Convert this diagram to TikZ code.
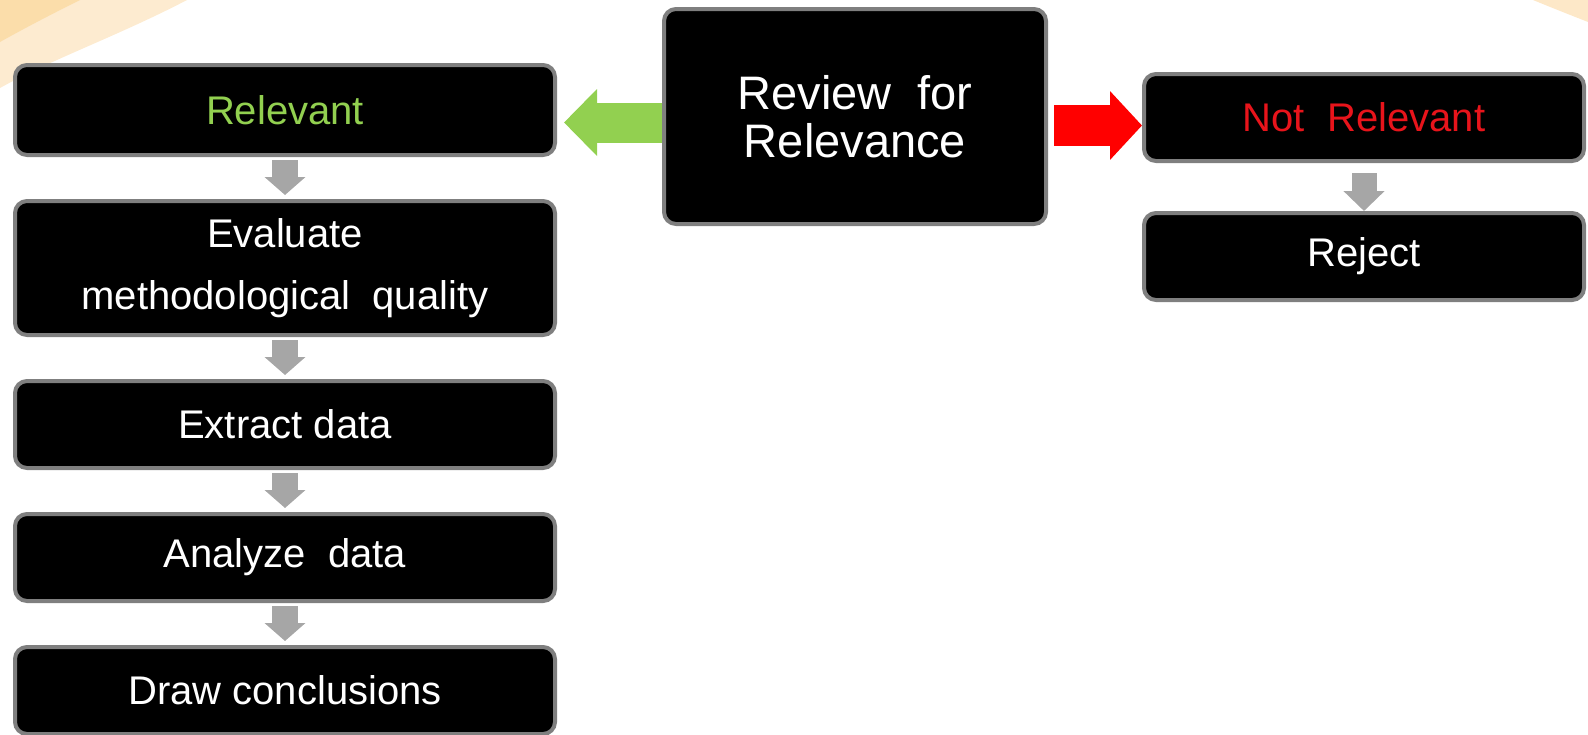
\documentclass[tikz,border=0pt]{standalone}
\usepackage{fontspec}
\setmainfont{Liberation Sans}
\usetikzlibrary{calc}
\usetikzlibrary{positioning}
\usetikzlibrary{arrows.meta}

\definecolor{relgreen}{HTML}{92D050}
\definecolor{notred}{HTML}{E8141B}
\definecolor{arrred}{HTML}{FF0000}
\definecolor{arrowgray}{HTML}{A6A6A6}
\definecolor{boxgray}{HTML}{7F7F7F}
\definecolor{bglight}{HTML}{FDEBD0}
\definecolor{bgdark}{HTML}{FBDDAA}

\begin{document}
\begin{tikzpicture}
 		[
 		x=0.5pt, y=-0.5pt,
 		font=\fontsize{20pt}{31pt}\selectfont,
 		node distance=21pt
 		]
 		
 		% Box and arrow styles
 		\tikzstyle{box}=[rectangle, rounded corners=6pt, draw=boxgray, line width=2pt, fill=black, text=white, inner sep=0pt, align=center, minimum width=270pt, minimum height=43.5pt];
 		\tikzstyle{gray arrow}=[draw=arrowgray, line width=13pt, -{Triangle[length=9pt,width=20pt]}];
 		
 		% Background corners
 		\useasboundingbox (0,0) rectangle (1588,734);
 		\fill[bglight] (0,0) -- (187,0) .. controls (120,35) and (50,60) .. (0,88) -- cycle;
 		\fill[bgdark] (0,0) -- (80,0) .. controls (50,15) and (25,28) .. (0,42) -- cycle;
 		\fill[bglight!80!bgdark] (1533,0) .. controls (1555,9) .. (1588,22) -- (1588,0) -- cycle;
 		
 		% Review box
 		\node(rev)[box, minimum width=191pt, minimum height=107.5pt, font=\fontsize{23.5pt}{24pt}\selectfont] at (855,116.5) {Review~~for\\Relevance};
 		
 		% Relevant branch
 		\node(rel)[box, minimum height=45pt, text=relgreen] at (285,110) {Relevant};
 		\node(eval)[box, minimum height=67pt, below=of rel]{Evaluate\\methodological~~quality};
 		\node(extr)[box, below=of eval]{Extract data};
 		\node(anal)[box, below=of extr]{Analyze~~data};
 		\node(concl)[box, below=of anal]{Draw conclusions};
 		
 		% Not relevant branch
 		\node(notrel)[box, minimum width=220pt, text=notred] at (1364,117.5) {Not~~Relevant};
 		\node(rej)[box, minimum width=220pt, below=24pt of notrel]{Reject};
 		
 		% Decision arrows
 		\coordinate(gs) at ($(rev.west)+(0,6)$);
 		\draw[draw=relgreen, line width=20pt, -{Triangle[length=16.5pt,width=32.5pt]}, shorten >=3.5pt](gs)--(gs -| rel.east);
 		\coordinate(rs) at ($(rev.east)+(0,9)$);
 		\draw[draw=arrred, line width=20.5pt, -{Triangle[length=16pt,width=33.5pt]}, shorten <=3pt](rs)--(rs -| notrel.west);
 		
 		% Step arrows
 		\foreach \a/\b in {rel/eval, eval/extr, extr/anal, anal/concl} \draw[gray arrow, shorten <=1.5pt, shorten >=2pt](\a.south)--(\b.north);
 		\draw[gray arrow, line width=12.5pt, -{Triangle[length=10pt,width=20pt]}, shorten <=5pt](notrel.south)--(rej.north);
 		
\end{tikzpicture}
\end{document}
